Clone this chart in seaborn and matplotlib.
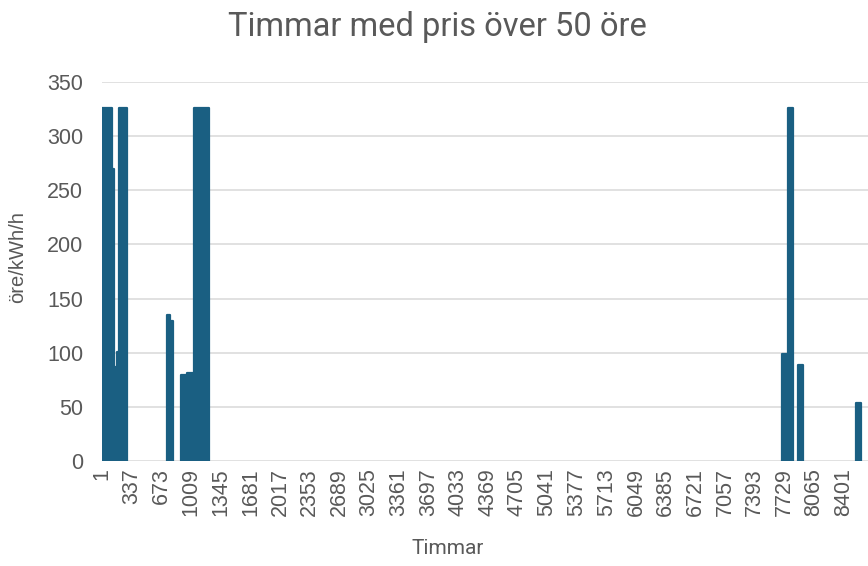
import numpy as np
import pandas as pd
import seaborn as sns
import matplotlib.pyplot as plt

# hour ranges (start, end) with price above 50 ore, and the price in that range
seg_start = [1, 112, 140, 166, 196, 733, 765, 899, 960, 1040, 7705, 7765, 7887, 8539]
seg_end = [112, 140, 166, 196, 284, 765, 808, 960, 1040, 1215, 7765, 7822, 7943, 8600]
seg_price = [326, 270, 87, 101, 326, 135, 129, 79, 81, 326, 99, 326, 89, 54]

tick_hours = [1, 337, 673, 1009, 1345, 1681, 2017, 2353, 2689, 3025, 3361, 3697, 4033,
              4369, 4705, 5041, 5377, 5713, 6049, 6385, 6721, 7057, 7393, 7729, 8065, 8401]
tick_labels = [str(h) for h in tick_hours]

df = pd.DataFrame({"start": seg_start, "end": seg_end, "pris": seg_price})
edges = sorted(set(seg_start) | set(seg_end))

sns.set_style("white")
grey = "#595959"
blue = "#1a5f82"

fig = plt.figure(figsize=(8.68, 5.66), dpi=100)
ax = fig.add_axes([102 / 868, 105 / 566, 1 - 102 / 868, 379 / 566])

sns.histplot(df, x="start", weights="pris", bins=edges, color=blue, alpha=1,
             edgecolor=blue, linewidth=1.6, ax=ax)

# gap bins have zero height, hide them so the grid line at 0 stays grey
for p in ax.patches:
    p.set_joinstyle("round")
    if p.get_height() == 0:
        p.set_visible(False)

ax.set_xlim(0, 8675)
ax.set_ylim(0, 350)
ax.set_yticks(range(0, 351, 50))
ax.set_xticks([h - 0.5 for h in tick_hours])
ax.set_xticklabels(tick_labels, rotation=90)
ax.grid(axis="y", color="#d9d9d9", linewidth=1.1)
ax.set_axisbelow(True)
for s in ax.spines.values():
    s.set_visible(False)
ax.tick_params(length=0, labelsize=15.5, labelcolor=grey)
ax.tick_params(axis="y", pad=13.5)
ax.tick_params(axis="x", pad=5)
for lab in ax.get_xticklabels() + ax.get_yticklabels():
    lab.set_fontfamily("Liberation Sans")

ax.set_xlabel("")
ax.set_ylabel("")
fig.text(18 / 868, 1 - 257 / 566, "öre/kWh/h", rotation=90, ha="center", va="center",
         fontsize=14.5, color=grey, family="Liberation Sans")
fig.text(448 / 868, 1 - 549 / 566, "Timmar", ha="center", va="center",
         fontsize=15, color=grey, family="Roboto")
fig.text(437 / 868, 1 - 27 / 566, "Timmar med pris över 50 öre", ha="center", va="center",
         fontsize=23.5, color=grey, family="Roboto")

fig.savefig("out.png", dpi=100)
